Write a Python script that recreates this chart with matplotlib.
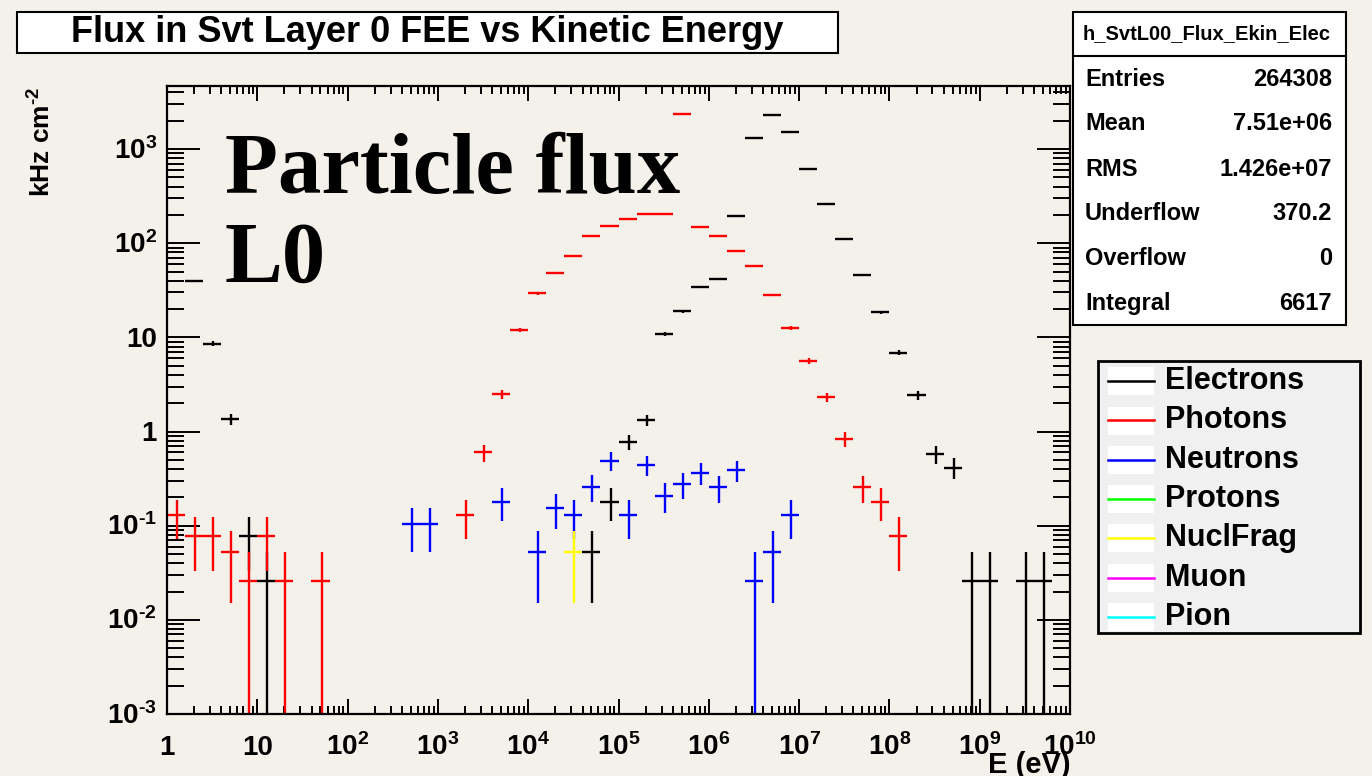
import numpy as np
import matplotlib.pyplot as plt
from matplotlib.patches import Rectangle
from matplotlib.lines import Line2D
from matplotlib.ticker import FixedLocator, NullFormatter
from matplotlib.transforms import ScaledTranslation

plt.rcParams['font.family'] = ['Liberation Sans', 'DejaVu Sans']
plt.rcParams['font.weight'] = 'bold'
plt.rcParams['mathtext.fontset'] = 'custom'
plt.rcParams['mathtext.rm'] = 'Liberation Sans:bold'
plt.rcParams['mathtext.bf'] = 'Liberation Sans:bold'
plt.rcParams['mathtext.default'] = 'bf'

# 50 log bins, 0.2 decades each, from 1 eV to 10 GeV
edges = np.logspace(0, 10, 51)
unit_w = 0.026   # flux carried by one entry (kHz cm^-2)

# bin index -> flux (kHz cm^-2)
elec_bins = [1, 2, 3, 4, 5, 23, 24, 25, 26, 27, 28, 29, 30, 31, 32, 33, 34, 35,
             36, 37, 38, 39, 40, 41, 42, 43, 44, 45, 47, 48]
elec_vals = [40, 8.6, 1.35, 0.078, 0.026, 0.052, 0.18, 0.78, 1.33, 10.9, 18.9, 34.3,
             41.7, 196, 1308, 2280, 1503, 608, 259, 110, 46.3, 18.6, 6.88, 2.43,
             0.574, 0.414, 0.026, 0.026, 0.026, 0.026]

phot_bins = [0, 1, 2, 3, 4, 5, 6, 8, 16, 17, 18, 19, 20, 21, 22, 23, 24, 25, 26,
             27, 28, 29, 30, 31, 32, 33, 34, 35, 36, 37, 38, 39, 40]
phot_vals = [0.130, 0.078, 0.078, 0.052, 0.026, 0.078, 0.026, 0.026, 0.130, 0.60,
             2.49, 12.1, 29.4, 47.9, 73.8, 119, 151, 181, 204, 203, 2335, 150, 118,
             82.6, 56.8, 28.2, 12.5, 5.61, 2.33, 0.83, 0.256, 0.18, 0.078]

neut_bins = [13, 14, 18, 20, 21, 22, 23, 24, 25, 26, 27, 28, 29, 30, 31, 32, 33, 34]
neut_vals = [0.104, 0.104, 0.18, 0.052, 0.156, 0.13, 0.26, 0.49, 0.13, 0.44, 0.209,
             0.278, 0.366, 0.256, 0.391, 0.026, 0.052, 0.13]

prot_bins, prot_vals = [], []
frag_bins, frag_vals = [22], [0.052]
muon_bins, muon_vals = [], []
pion_bins, pion_vals = [], []

species = ['Electrons', 'Photons', 'Neutrons', 'Protons', 'NuclFrag', 'Muon', 'Pion']
colors = ['black', 'red', 'blue', '#00ff00', '#ffff00', '#ff00ff', '#00ffff']
series = [(elec_bins, elec_vals), (phot_bins, phot_vals), (neut_bins, neut_vals),
          (prot_bins, prot_vals), (frag_bins, frag_vals), (muon_bins, muon_vals),
          (pion_bins, pion_vals)]

stat_names = ['Entries', 'Mean', 'RMS', 'Underflow', 'Overflow', 'Integral']
stat_values = ['264308', '7.51e+06', '1.426e+07', '370.2', '0', '6617']

x_decades = list(range(0, 11))
y_decades = list(range(-3, 4))

bg = '#f4f1eb'
W, H = 1372, 776
fig = plt.figure(figsize=(W / 100, H / 100), dpi=100)
fig.patch.set_facecolor(bg)


def fx(px):
    return px / W


def fy(py):
    return 1 - py / H


ax = fig.add_axes([fx(167), fy(714), fx(1070) - fx(167), fy(86) - fy(714)])
ax.set_facecolor(bg)
ax.set_xscale('log')
ax.set_yscale('log')
ax.set_xlim(1, 1e10)
ax.set_ylim(1e-3, 10 ** 3.67)

# histograms: bin-width bars plus sqrt(N) error bars
for (bins, vals), col in zip(series, colors):
    if not bins:
        continue
    b = np.asarray(bins)
    v = np.asarray(vals, float)
    lo, hi = edges[b], edges[b + 1]
    xc = 0.5 * (lo + hi)
    err = np.sqrt(v * unit_w)
    ax.hlines(v, lo, hi, color=col, lw=1.7)
    ax.vlines(xc, np.maximum(v - err, 1e-6), v + err, color=col, lw=1.7)

# axes frame and ticks
for sp in ax.spines.values():
    sp.set_linewidth(1.6)
ax.xaxis.set_major_locator(FixedLocator([10.0 ** e for e in x_decades]))
ax.xaxis.set_minor_locator(FixedLocator([m * 10.0 ** e for e in range(0, 10) for m in range(2, 10)]))
ax.yaxis.set_major_locator(FixedLocator([10.0 ** e for e in range(-3, 4)]))
ax.yaxis.set_minor_locator(FixedLocator([m * 10.0 ** e for e in range(-3, 4) for m in range(2, 10)]))
ax.xaxis.set_minor_formatter(NullFormatter())
ax.yaxis.set_minor_formatter(NullFormatter())
ax.tick_params(which='both', direction='in', top=True, right=True,
               labelbottom=False, labelleft=False, width=1.4)
ax.tick_params(axis='x', which='major', length=11)
ax.tick_params(axis='x', which='minor', length=5.5)
ax.tick_params(axis='y', which='major', length=24)
ax.tick_params(axis='y', which='minor', length=12)


def dec_label(e):
    if e == 0:
        return '1'
    if e == 1:
        return '10'
    if e < 0:
        return r'$10^{\text{-}%d}$' % (-e)
    return r'$10^{%d}$' % e


# tick labels sit on a common baseline
xoff = ax.get_xaxis_transform() + ScaledTranslation(0, -0.41, fig.dpi_scale_trans)
for e in x_decades:
    ax.text(10.0 ** e, 0, dec_label(e), transform=xoff, ha='center', va='baseline',
            fontsize=20, fontweight='bold')
yoff = ax.get_yaxis_transform() + ScaledTranslation(-0.10, -0.095, fig.dpi_scale_trans)
for e in y_decades:
    ax.text(0, 10.0 ** e, dec_label(e), transform=yoff, ha='right', va='baseline',
            fontsize=20, fontweight='bold')

fig.text(fx(1071), fy(773), 'E (eV)', ha='right', va='baseline', fontsize=21, fontweight='bold')
fig.text(fx(42), fy(87), r'kHz cm$^{\text{-}2}$', rotation=90, ha='center', va='top',
         fontsize=19, fontweight='bold')

# big annotation
fig.text(fx(225), fy(193), 'Particle flux', family=['Liberation Serif', 'DejaVu Serif'],
         fontsize=62.5, fontweight='bold', va='baseline', ha='left')
fig.text(fx(225), fy(282), 'L0', family=['Liberation Serif', 'DejaVu Serif'],
         fontsize=62.5, fontweight='bold', va='baseline', ha='left')

# title box
fig.add_artist(Rectangle((fx(17), fy(53)), fx(838) - fx(17), fy(12) - fy(53),
                         transform=fig.transFigure, facecolor='white', edgecolor='black', lw=1.5))
fig.text(fx(427.5), fy(32.5), 'Flux in Svt Layer 0 FEE vs Kinetic Energy',
         ha='center', va='center', fontsize=26, fontweight='bold')

# stats box
fig.add_artist(Rectangle((fx(1073), fy(325)), fx(1346) - fx(1073), fy(12) - fy(325),
                         transform=fig.transFigure, facecolor='white', edgecolor='black', lw=1.5))
fig.add_artist(Line2D([fx(1073), fx(1346)], [fy(55.7), fy(55.7)], transform=fig.transFigure,
                      color='black', lw=1.5))
fig.text(fx(1207), fy(34), 'h_SvtL00_Flux_Ekin_Elec', ha='center', va='center',
         fontsize=14.5, fontweight='bold')
row_y = [79.5, 124, 169.5, 214, 259, 304]
for name, val, ry in zip(stat_names, stat_values, row_y):
    fig.text(fx(1085), fy(ry), name, ha='left', va='center', fontsize=17, fontweight='bold')
    fig.text(fx(1332), fy(ry), val, ha='right', va='center', fontsize=17, fontweight='bold')

# legend
fig.add_artist(Rectangle((fx(1098), fy(633)), fx(1360) - fx(1098), fy(361) - fy(633),
                         transform=fig.transFigure, facecolor='#f0f0f0', edgecolor='black', lw=2))
leg_y = [381, 420.5, 459.5, 499, 538, 578, 617]
for name, col, ly in zip(species, colors, leg_y):
    fig.add_artist(Rectangle((fx(1108), fy(ly + 14)), fx(1154) - fx(1108), fy(ly - 14) - fy(ly + 14),
                             transform=fig.transFigure, facecolor='white', edgecolor='none'))
    fig.add_artist(Line2D([fx(1108), fx(1154)], [fy(ly), fy(ly)], transform=fig.transFigure,
                          color=col, lw=1.8))
    fig.text(fx(1165), fy(ly), name, ha='left', va='center', fontsize=22, fontweight='bold')

fig.savefig('out.png', dpi=100, facecolor=bg)
